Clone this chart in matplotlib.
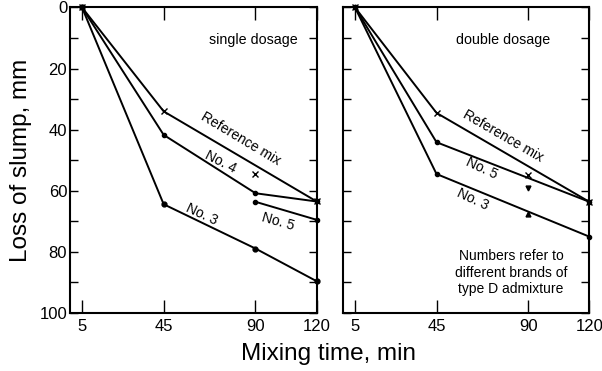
import numpy as np
import matplotlib.pyplot as plt

plt.rcParams['font.family'] = ['Liberation Sans', 'DejaVu Sans']

# single dosage
s_ref_t = [5, 45, 120]
s_ref_v = [0, 34, 63.5]
s_ref_pt_t = [90]
s_ref_pt_v = [54.5]
s_no4_t = [5, 45, 90, 120]
s_no4_v = [0, 41.7, 60.8, 63.5]
s_no5_t = [90, 120]
s_no5_v = [63.6, 69.5]
s_no3_t = [5, 45, 90, 120]
s_no3_v = [0, 64.4, 78.9, 89.6]

# double dosage
d_ref_t = [5, 45, 120]
d_ref_v = [0, 34.5, 63.6]
d_ref_pt_t = [90]
d_ref_pt_v = [54.8]
d_no5_t = [5, 45, 120]
d_no5_v = [0, 44.1, 63.6]
d_no5_pt_t = [90]
d_no5_pt_v = [59.1]
d_no3_t = [5, 45, 120]
d_no3_v = [0, 54.5, 75.0]
d_no3_pt_t = [90]
d_no3_pt_v = [67.7]

xticks = [5, 45, 90, 120]

fig = plt.figure(figsize=(6.02, 3.71), dpi=100)
ax1 = fig.add_axes([0.1163, 0.1563, 0.4098, 0.8235])
ax2 = fig.add_axes([0.5703, 0.1563, 0.4086, 0.8235])

lw = 1.4
kw = dict(color='black', lw=lw, clip_on=False)

# left panel
ax1.plot(s_ref_t, s_ref_v, marker='x', ms=4, mew=1, **kw)
ax1.plot(s_ref_pt_t, s_ref_pt_v, 'x', color='black', ms=4, mew=1)
ax1.plot(s_no4_t, s_no4_v, marker='o', ms=3, **kw)
ax1.plot(s_no5_t, s_no5_v, marker='o', ms=3, **kw)
ax1.plot(s_no3_t, s_no3_v, marker='o', ms=3.5, **kw)

ax1.text(88.8, 10.5, 'single dosage', ha='center', va='center', fontsize=10.3)
ax1.text(82.9, 42.9, 'Reference mix', ha='center', va='center', fontsize=10, rotation=-31)
ax1.text(73, 50.4, 'No. 4', ha='center', va='center', fontsize=10, rotation=-27)
ax1.text(101, 70, 'No. 5', ha='center', va='center', fontsize=10, rotation=-16)
ax1.text(63.8, 67.8, 'No. 3', ha='center', va='center', fontsize=10, rotation=-25)

# right panel
ax2.plot(d_ref_t, d_ref_v, marker='x', ms=4, mew=1, **kw)
ax2.plot(d_ref_pt_t, d_ref_pt_v, 'x', color='black', ms=4, mew=1)
ax2.plot(d_no5_t, d_no5_v, marker='o', ms=3, **kw)
ax2.plot(d_no5_pt_t, d_no5_pt_v, 'v', color='black', ms=3.5)
ax2.plot(d_no3_t, d_no3_v, marker='o', ms=3, **kw)
ax2.plot(d_no3_pt_t, d_no3_pt_v, '^', color='black', ms=3.5)

ax2.text(77.7, 10.8, 'double dosage', ha='center', va='center', fontsize=10.3)
ax2.text(77.7, 42.1, 'Reference mix', ha='center', va='center', fontsize=10, rotation=-30)
ax2.text(67.3, 52.6, 'No. 5', ha='center', va='center', fontsize=10, rotation=-25)
ax2.text(62.9, 62.8, 'No. 3', ha='center', va='center', fontsize=10, rotation=-25)
ax2.text(81.6, 86.8, 'Numbers refer to\ndifferent brands of\ntype D admixture',
         ha='center', va='center', fontsize=10, linespacing=1.2)

for ax, xl in ((ax1, (-0.9, 120)), (ax2, (-0.75, 120))):
    ax.set_xlim(*xl)
    ax.set_ylim(100, 0)
    ax.set_xticks(xticks)
    ax.set_yticks(np.arange(0, 101, 20))
    ax.set_yticks(np.arange(10, 100, 20), minor=True)
    ax.tick_params(axis='x', direction='in', top=True, length=9.5, width=1,
                   labelsize=12, pad=4)
    ax.tick_params(axis='y', which='both', direction='in', right=True, length=5.5,
                   width=1, labelsize=12, pad=2)
    for sp in ax.spines.values():
        sp.set_linewidth(1.5)

ax2.set_yticklabels([])
ax1.set_ylabel('Loss of slump, mm', fontsize=17.5)
ax1.yaxis.set_label_coords(-0.154, 0.5)
fig.text(0.545, 0.046, 'Mixing time, min', ha='center', va='center', fontsize=17.5)

fig.savefig('out.png', dpi=100)
